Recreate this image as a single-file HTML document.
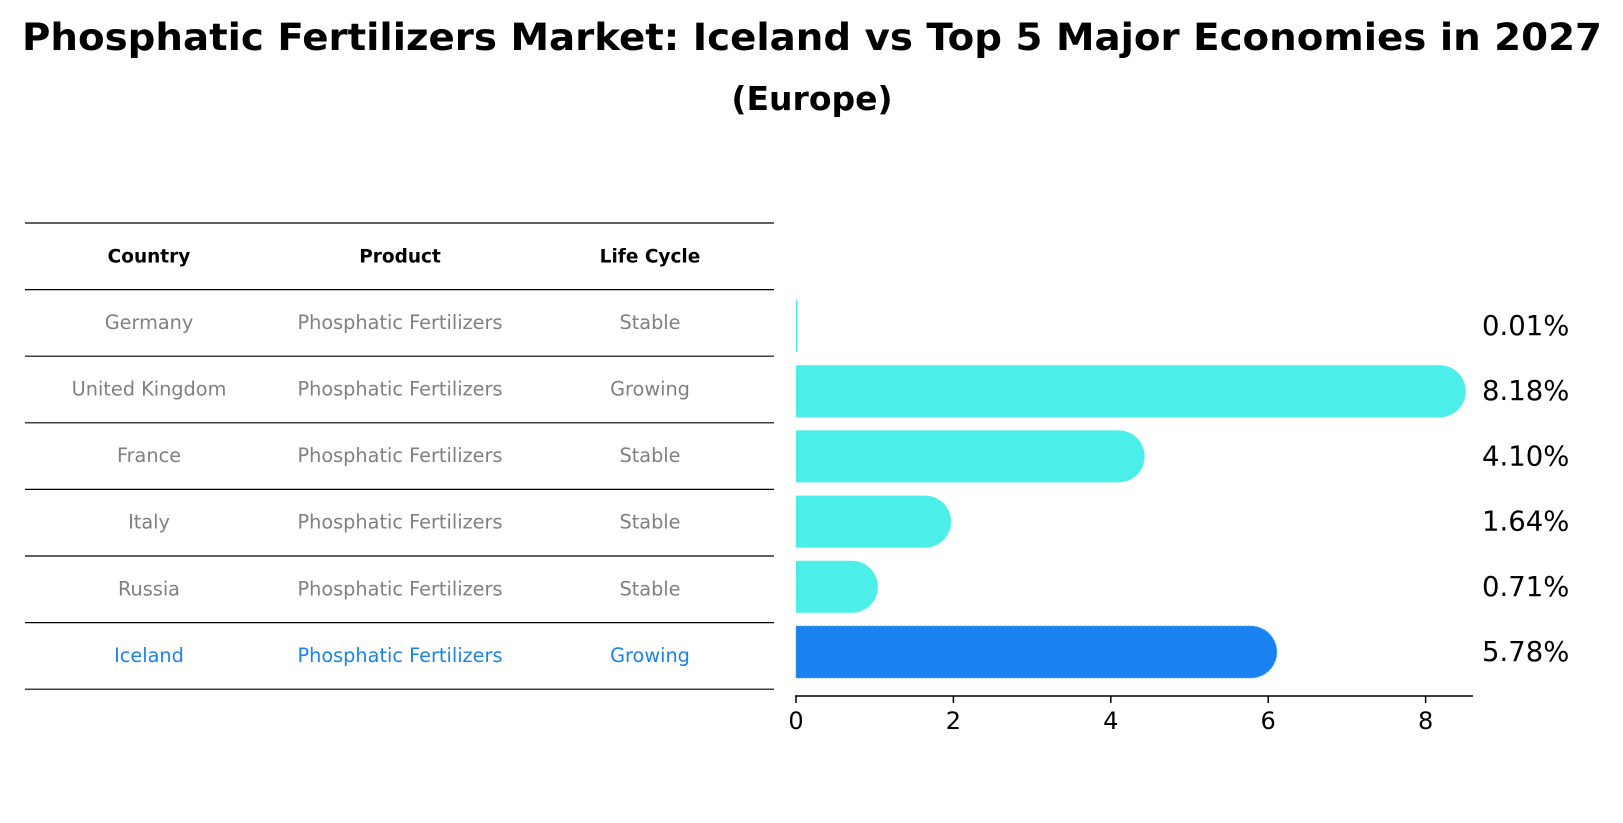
<!DOCTYPE html>
<html><head><meta charset="utf-8"><style>
body{margin:0;background:#fff;}
svg{display:block;font-family:"DejaVu Sans","Liberation Sans",sans-serif;}
</style></head><body>
<svg id="chart" width="1623" height="823" viewBox="0 0 1623 823">
<text x="812" y="50" text-anchor="middle" font-size="37" font-weight="bold" textLength="1580" lengthAdjust="spacingAndGlyphs">Phosphatic Fertilizers Market: Iceland vs Top 5 Major Economies in 2027</text>
<text x="812" y="110" text-anchor="middle" font-size="33" font-weight="bold">(Europe)</text>
<g id="table"></g>
<g id="bars"></g>
</svg>
<script>
const countries = ["Germany","United Kingdom","France","Italy","Russia","Iceland"];
const products = ["Phosphatic Fertilizers","Phosphatic Fertilizers","Phosphatic Fertilizers","Phosphatic Fertilizers","Phosphatic Fertilizers","Phosphatic Fertilizers"];
const lifeCycles = ["Stable","Growing","Stable","Stable","Stable","Growing"];
const values = [0.01, 8.18, 4.10, 1.64, 0.71, 5.78];
const ticks = [0, 2, 4, 6, 8];

const NS = "http://www.w3.org/2000/svg";
function mk(tag, attrs, parent){const e=document.createElementNS(NS,tag);for(const k in attrs)e.setAttribute(k,attrs[k]);parent.appendChild(e);return e;}
const table = document.getElementById('table');
const bars = document.getElementById('bars');
const tx0=25, tx1=774, top0=223, rowH=66.6;
const cols=[149,400,650];
const heads=["Country","Product","Life Cycle"];
for(let i=0;i<=countries.length+1;i++){
  const y=top0+i*rowH;
  const l=mk('line',{x1:tx0,x2:tx1,y1:y,y2:y,stroke:'#000','stroke-width':1.2},table);
  
  
}
heads.forEach((h,i)=>{
  const t=mk('text',{x:cols[i],y:top0+rowH/2+6,'text-anchor':'middle','font-size':18.5,'font-weight':'bold'},table);
  t.textContent=h;
  
  
});
countries.forEach((c,r)=>{
  const y=top0+(r+1)*rowH+rowH/2+6;
  const col = r===countries.length-1 ? '#1a82f0' : '#808080';
  [c,products[r],lifeCycles[r]].forEach((v,i)=>{
    const t=mk('text',{x:cols[i],y:y,'text-anchor':'middle','font-size':19.3,fill:col},table);
    t.textContent=v;
    
    
  });
});
const x0=796, pxPer=78.7, axisY=696, barH=52;
const xs=v=>x0+v*pxPer;
const yc=i=>326+i*65.2;
values.forEach((v,i)=>{
  const last=i===values.length-1;
  const color= last ? '#1a82f0' : '#4beee8';
  const x1=xs(v), y=yc(i), r=barH/2;
  const d=`M${x0},${y-r} L${x1},${y-r} A${r},${r} 0 0 1 ${x1},${y+r} L${x0},${y+r} Z`;
  const p=mk('path',{d:v<0.05?`M${x0},${y-r}h1.5v${barH}h-1.5Z`:d,fill:color},bars);
  if(last){p.setAttribute('stroke','#5aa9f5');p.setAttribute('stroke-dasharray','2,2');p.setAttribute('stroke-width','1');}
  
  
  const t=mk('text',{x:1482,y:y+9,'font-size':27.5},bars);
  t.textContent=v.toFixed(2)+'%';
  
  
});
const ax=mk('line',{x1:795,x2:1473,y1:axisY,y2:axisY,stroke:'#000','stroke-width':1.5},bars);


ticks.forEach(tv=>{
  const tk=mk('line',{x1:xs(tv),x2:xs(tv),y1:axisY,y2:axisY+7,stroke:'#000','stroke-width':1.5},bars);
  
  
  const t=mk('text',{x:xs(tv),y:axisY+33,'text-anchor':'middle','font-size':24},bars);
  t.textContent=tv;
  
  
});
</script>
</body></html>
